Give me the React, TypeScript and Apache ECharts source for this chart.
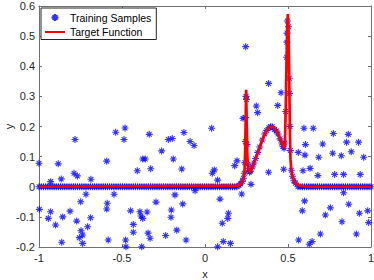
import React, { useEffect, useRef } from "react";
import * as echarts from "echarts";

// ---- axes ----
const xMin = -1, xMax = 1, xStep = 0.5;
const yMin = -0.2, yMax = 0.6, yStep = 0.1;
const xName = "x";
const yName = "y";
const legendNames = ["Training Samples", "Target Function"];

// ---- target function ----
const curveX = [-1, 0.2, 0.213, 0.225, 0.233, 0.238, 0.242, 0.245, 0.248, 0.251, 0.254, 0.258, 0.264, 0.271, 0.28, 0.29, 0.3, 0.31, 0.32, 0.33, 0.34, 0.35, 0.36, 0.37, 0.38, 0.39, 0.4, 0.41, 0.42, 0.43, 0.44, 0.45, 0.46, 0.47, 0.476, 0.482, 0.487, 0.491, 0.495, 0.499, 0.503, 0.507, 0.511, 0.515, 0.52, 0.525, 0.53, 0.54, 0.55, 0.57, 0.6, 0.65, 1];
const curveY = [0, 0.004, 0.008, 0.018, 0.03, 0.05, 0.12, 0.22, 0.322, 0.22, 0.12, 0.07, 0.052, 0.048, 0.059, 0.072, 0.086, 0.101, 0.116, 0.132, 0.148, 0.162, 0.175, 0.185, 0.193, 0.198, 0.2, 0.198, 0.193, 0.185, 0.175, 0.162, 0.148, 0.134, 0.128, 0.15, 0.28, 0.42, 0.53, 0.573, 0.52, 0.38, 0.2, 0.09, 0.055, 0.04, 0.027, 0.015, 0.009, 0.004, 0.001, 0, 0];

// ---- training samples lying on the flat part (y = 0) ----
const bandX = [-1, -0.986, -0.973, -0.96, -0.947, -0.934, -0.921, -0.909, -0.896, -0.883, -0.87, -0.857, -0.845, -0.832, -0.819, -0.806, -0.793, -0.781, -0.768, -0.755, -0.742, -0.729, -0.717, -0.704, -0.69, -0.677, -0.665, -0.652, -0.639, -0.626, -0.613, -0.6, -0.588, -0.575, -0.562, -0.549, -0.536, -0.523, -0.51, -0.497, -0.484, -0.471, -0.458, -0.445, -0.432, -0.419, -0.406, -0.393, -0.38, -0.367, -0.354, -0.341, -0.328, -0.315, -0.302, -0.289, -0.276, -0.263, -0.25, -0.237, -0.224, -0.211, -0.198, -0.185, -0.172, -0.159, -0.146, -0.133, -0.12, -0.107, -0.094, -0.081, -0.068, -0.055, -0.042, -0.029, -0.016, -0.003, 0.01, 0.023, 0.036, 0.049, 0.062, 0.075, 0.088, 0.101, 0.114, 0.127, 0.14, 0.153, 0.166, 0.179, 0.192, 0.56, 0.573, 0.586, 0.599, 0.612, 0.625, 0.638, 0.651, 0.664, 0.677, 0.69, 0.703, 0.716, 0.729, 0.742, 0.755, 0.768, 0.781, 0.794, 0.807, 0.82, 0.833, 0.846, 0.859, 0.872, 0.885, 0.898, 0.911, 0.924, 0.937, 0.95, 0.963, 0.976, 0.989, 1];

// ---- training samples lying on the peaks ----
const peakSampleX = [0.205, 0.215, 0.225, 0.232, 0.237, 0.24, 0.243, 0.245, 0.247, 0.25, 0.253, 0.257, 0.262, 0.268, 0.275, 0.285, 0.295, 0.305, 0.318, 0.33, 0.345, 0.36, 0.372, 0.385, 0.395, 0.405, 0.418, 0.43, 0.44, 0.452, 0.462, 0.47, 0.476, 0.481, 0.486, 0.492, 0.4935, 0.4945, 0.496, 0.503, 0.5077, 0.509, 0.5115, 0.514, 0.52, 0.527, 0.535, 0.545];
const peakSampleY = [0.005, 0.009, 0.018, 0.028, 0.045, 0.08, 0.15, 0.23, 0.3, 0.29, 0.14, 0.075, 0.055, 0.049, 0.052, 0.066, 0.079, 0.094, 0.114, 0.132, 0.155, 0.175, 0.187, 0.196, 0.199, 0.199, 0.19, 0.185, 0.175, 0.159, 0.145, 0.134, 0.128, 0.145, 0.25, 0.43, 0.48, 0.51, 0.55, 0.531, 0.36, 0.31, 0.2, 0.12, 0.055, 0.035, 0.02, 0.012];

// ---- outlying training samples ----
const outlierX = [-0.783, -0.538, -0.482, -0.488, -0.336, -0.221, -0.197, -0.127, -0.09, -0.066, 0.04, -1.0, -0.884, -0.93, -0.866, -0.789, -0.769, -0.687, -0.592, -0.408, -0.375, -0.36, -0.327, -0.261, -0.191, -0.14, 0.056, 0.044, 0.076, 0.179, 0.193, 0.245, 0.383, 0.458, 0.309, 0.317, 0.438, 0.229, 0.383, 0.474, 0.59, 0.605, 0.602, 0.685, 0.562, 0.633, 0.68, 0.596, 0.652, 0.773, 0.863, 0.925, 0.853, 0.709, 0.769, 0.821, 0.881, 0.956, 0.781, 0.835, 0.935, -0.181, -0.134, -0.114, -0.17, -0.205, -0.203, -0.237, -0.295, -0.331, -0.343, -0.349, -0.381, -0.375, -0.386, -0.392, -0.432, -0.432, -0.448, -0.478, -0.476, -0.548, -0.589, -0.592, -0.583, -0.689, -0.707, -0.717, -0.749, -0.773, -0.747, -0.737, -0.757, -0.737, -0.813, -0.857, -0.863, -0.9, -0.93, -0.944, -0.998, -0.06, 0.09, 0.076, 0.11, 0.104, 0.141, 0.137, 0.153, 0.277, 0.221, 0.6, 0.586, 0.755, 0.725, 0.866, 0.93, 0.98, 0.825, 0.986, 0.695, 0.912, 0.564, 0.628, 0.645, 0.835];
const outlierY = [0.157, 0.181, 0.195, 0.157, 0.174, 0.157, 0.16, 0.18, 0.15, 0.137, 0.194, 0.078, 0.076, 0.017, 0.026, 0.045, 0.036, 0.025, 0.085, 0.053, 0.092, 0.092, 0.06, 0.119, 0.092, 0.059, 0.056, 0.045, 0.022, 0.07, 0.086, 0.465, 0.343, 0.312, 0.268, 0.246, 0.27, 0.227, 0.048, 0.058, 0.053, 0.14, 0.105, 0.098, 0.114, 0.061, 0.037, 0.194, 0.194, 0.177, 0.174, 0.148, 0.148, 0.142, 0.111, 0.103, 0.116, 0.098, 0.041, 0.041, 0.041, -0.027, -0.057, -0.177, -0.144, -0.101, -0.077, -0.162, -0.051, -0.171, -0.154, -0.084, -0.199, -0.105, -0.097, -0.083, -0.151, -0.125, -0.08, -0.177, -0.199, -0.025, -0.055, -0.074, -0.177, -0.103, -0.133, -0.025, -0.05, -0.114, -0.146, -0.16, -0.169, -0.188, -0.081, -0.1, -0.184, -0.127, -0.083, -0.105, -0.075, -0.013, -0.041, -0.199, -0.182, -0.121, -0.088, -0.105, -0.188, 0.008, -0.024, -0.047, -0.08, -0.07, -0.094, -0.058, -0.088, -0.08, -0.116, -0.119, -0.157, -0.157, -0.177, -0.191, -0.182, -0.02];

const FONT = "'Liberation Sans', Arial, Helvetica, sans-serif";
const TEXT = "#262626";
const AXIS = "#707070";
const STAR = "path://M0,5L10,5M5,0L5,10M1.6,1.6L8.4,8.4M8.4,1.6L1.6,8.4";

function fmt(v: number) {
  const r = Math.round(v * 10) / 10;
  return String(r);
}

export default function App() {
  const ref = useRef<HTMLDivElement>(null);
  useEffect(() => {
    if (!ref.current) return;
    const chart = echarts.init(ref.current, undefined, { renderer: "svg" });
    const samples: number[][] = [];
    bandX.forEach((x) => samples.push([x, 0]));
    peakSampleX.forEach((x, i) => samples.push([x, peakSampleY[i]]));
    outlierX.forEach((x, i) => samples.push([x, outlierY[i]]));
    const curve = curveX.map((x, i) => [x, curveY[i]]);

    const baseX = {
      type: "value",
      min: xMin,
      max: xMax,
      interval: xStep,
      splitLine: { show: false },
      axisLine: { show: true, onZero: false, lineStyle: { color: AXIS, width: 1 } },
      axisTick: { show: true, inside: true, length: 3, lineStyle: { color: AXIS } },
    };
    const baseY = {
      type: "value",
      min: yMin,
      max: yMax,
      interval: yStep,
      splitLine: { show: false },
      axisLine: { show: true, onZero: false, lineStyle: { color: AXIS, width: 1 } },
      axisTick: { show: true, inside: true, length: 3, lineStyle: { color: AXIS } },
    };

    chart.setOption({
      animation: false,
      backgroundColor: "#ffffff",
      textStyle: { fontFamily: FONT },
      grid: { left: 39, right: 3, top: 6, bottom: 33, containLabel: false, outerBoundsMode: "none" },
      legend: {
        orient: "vertical",
        left: 41,
        top: 8,
        padding: [3, 5, 1, 3],
        itemGap: 1.5,
        itemWidth: 20,
        itemHeight: 7,
        backgroundColor: "#ffffff",
        borderColor: "#262626",
        borderWidth: 1,
        textStyle: { fontSize: 10.5, color: "#000000", fontFamily: FONT, lineHeight: 13 },
        data: [
          { name: legendNames[0] },
          { name: legendNames[1], itemStyle: { opacity: 0 } },
        ],
      },
      xAxis: [
        {
          ...baseX,
          position: "bottom",
          name: xName,
          nameLocation: "middle",
          nameGap: 21,
          nameMoveOverlap: false,
          nameTextStyle: { fontSize: 11, color: TEXT, fontFamily: FONT },
          axisLabel: { show: true, margin: 5, fontSize: 11, color: TEXT, fontFamily: FONT, formatter: fmt },
        },
        { ...baseX, position: "top", axisLabel: { show: false } },
      ],
      yAxis: [
        {
          ...baseY,
          position: "left",
          name: yName,
          nameLocation: "middle",
          nameGap: 25,
          nameRotate: 90,
          nameMoveOverlap: false,
          nameTextStyle: { fontSize: 11, color: TEXT, fontFamily: FONT },
          axisLabel: { show: true, margin: 4, fontSize: 11, color: TEXT, fontFamily: FONT, formatter: fmt },
        },
        { ...baseY, position: "right", axisLabel: { show: false } },
      ],
      series: [
        {
          name: legendNames[0],
          type: "scatter",
          xAxisIndex: 0,
          yAxisIndex: 0,
          symbol: STAR,
          symbolSize: 7,
          symbolKeepAspect: true,
          itemStyle: { color: "#0000ff", borderColor: "#0000ff", borderWidth: 1.1 },
          data: samples,
          z: 2,
        },
        {
          name: legendNames[1],
          type: "line",
          xAxisIndex: 0,
          yAxisIndex: 0,
          symbol: "none",
          showSymbol: false,
          lineStyle: { color: "#ff0000", width: 2.7 },
          itemStyle: { color: "#ff0000" },
          data: curve,
          z: 3,
        },
      ],
    });
    return () => chart.dispose();
  }, []);
  return (
    <div
      ref={ref}
      style={{ position: "fixed", left: 0, top: 0, width: 374, height: 280 }}
    />
  );
}
